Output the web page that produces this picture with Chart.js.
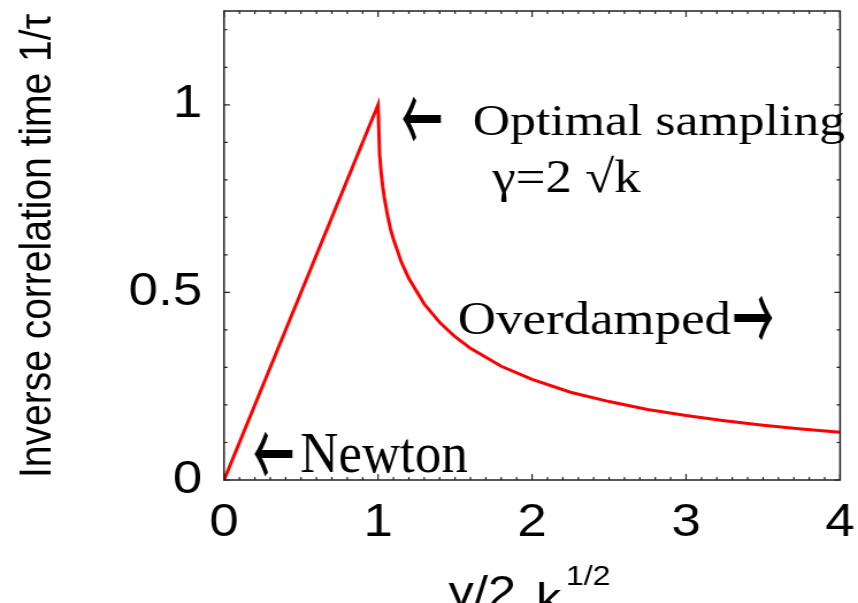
<!DOCTYPE html>
<html>
<head>
<meta charset="utf-8">
<title>Inverse correlation time</title>
<script src="https://cdn.jsdelivr.net/npm/chart.js@4.4.1/dist/chart.umd.min.js"></script>
<style>
  html, body { margin: 0; padding: 0; background: #fff; }
</style>
</head>
<body>
<!-- drawn narrow and widened by CSS so the lettering comes out broad -->
<canvas id="rateChart" width="746" height="603" style="width:858px;height:603px;display:block"></canvas>
<script>
// damping ratio gamma / (2 sqrt k)
const dampingRatio = [0, 1, 1.01, 1.02, 1.03, 1.04, 1.06, 1.08, 1.1, 1.15, 1.2, 1.3, 1.4, 1.5, 1.6, 1.8,
    2.0, 2.25, 2.5, 2.75, 3.0, 3.25, 3.5, 3.75, 4.0];
// inverse correlation time 1/tau
const inverseTau = [0, 1, 0.868, 0.82, 0.783, 0.755, 0.708, 0.67, 0.642, 0.582, 0.537, 0.469, 0.42, 0.382, 0.351, 0.303,
    0.268, 0.234, 0.209, 0.188, 0.172, 0.158, 0.146, 0.136, 0.127];

const xLabels = [0, 1, 2, 3, 4];
const yLabels = [0, 0.5, 1];

const sansFont = "'Liberation Sans', Arial, sans-serif";
const serifFont = "'Liberation Serif', 'Times New Roman', serif";
const arrowFont = "'Noto Sans CJK JP', 'DejaVu Sans', sans-serif";

const isLabelled = (value, list) => list.some(v => Math.abs(v - value) < 1e-6);

// big arrow glyph, squeezed sideways
function drawArrow(ctx, glyph, x, y) {
    ctx.save();
    ctx.translate(x, y);
    ctx.scale(0.38, 1);
    ctx.textAlign = 'left';
    ctx.textBaseline = 'middle';
    ctx.font = `500 94px ${arrowFont}`;
    ctx.fillText(glyph, 0, 0);
    ctx.restore();
}

// frame, inward ticks on all four sides, notes and axis titles
const framePlugin = {
    id: 'framePlugin',
    afterDatasetsDraw(chart) {
        const { ctx, chartArea: area, scales } = chart;
        ctx.save();
        ctx.strokeStyle = '#222';
        ctx.lineWidth = 1.5;
        ctx.strokeRect(area.left, area.top, area.right - area.left, area.bottom - area.top);

        ctx.lineWidth = 1.2;
        ctx.beginPath();
        scales.x.ticks.forEach(t => {
            const px = scales.x.getPixelForValue(t.value);
            const len = isLabelled(t.value, xLabels) ? 6 : 3;
            ctx.moveTo(px, area.bottom); ctx.lineTo(px, area.bottom - len);
            ctx.moveTo(px, area.top); ctx.lineTo(px, area.top + len);
        });
        scales.y.ticks.forEach(t => {
            const py = scales.y.getPixelForValue(t.value);
            const len = isLabelled(t.value, yLabels) ? 5 : 3;
            ctx.moveTo(area.left, py); ctx.lineTo(area.left + len, py);
            ctx.moveTo(area.right, py); ctx.lineTo(area.right - len, py);
        });
        ctx.stroke();

        ctx.fillStyle = '#000';

        drawArrow(ctx, '\u2190', 349, 119);
        drawArrow(ctx, '\u2190', 220, 454);
        drawArrow(ctx, '\u2192', 637, 318);

        ctx.textAlign = 'left';
        ctx.textBaseline = 'alphabetic';
        ctx.font = `45px ${serifFont}`;
        ctx.fillText('Optimal sampling', 411, 135);
        ctx.font = `46px ${serifFont}`;
        ctx.fillText('\u03b3=2 \u221ak', 428, 192);
        ctx.fillText('Overdamped', 398, 334);

        // taller lettering for the Newton note
        ctx.save();
        ctx.translate(261, 472);
        ctx.scale(1, 1.22);
        ctx.font = `46px ${serifFont}`;
        ctx.fillText('Newton', 0, 0);
        ctx.restore();

        // x axis title, runs past the bottom edge
        ctx.font = `44px ${sansFont}`;
        ctx.fillText('\u03b3/2', 390, 607);
        ctx.fillText('k', 466, 614);
        ctx.font = `28px ${sansFont}`;
        ctx.fillText('1/2', 492, 585);

        // y axis title
        ctx.translate(33, 246);
        ctx.rotate(-Math.PI / 2);
        ctx.textAlign = 'center';
        ctx.textBaseline = 'middle';
        ctx.font = `39px ${sansFont}`;
        ctx.fillText('Inverse correlation time 1/\u03c4', 0, 0);
        ctx.restore();
    }
};

const points = dampingRatio.map((x, i) => ({ x, y: inverseTau[i] }));

new Chart(document.getElementById('rateChart'), {
    type: 'scatter',
    data: {
        datasets: [{
            data: points,
            showLine: true,
            borderColor: '#ff0000',
            borderWidth: 3,
            pointRadius: 0,
            tension: 0,
            fill: false
        }]
    },
    options: {
        responsive: false,
        animation: false,
        devicePixelRatio: 1,
        layout: { padding: { top: 11, right: 15.6, left: 0, bottom: 0 } },
        plugins: { legend: { display: false }, tooltip: { enabled: false } },
        scales: {
            x: {
                type: 'linear',
                min: 0,
                max: 4,
                grid: { display: false, drawTicks: false },
                border: { display: false },
                ticks: {
                    stepSize: 0.1,
                    autoSkip: false,
                    maxRotation: 0,
                    padding: 16,
                    color: '#000',
                    font: { family: sansFont, size: 46 },
                    callback: v => isLabelled(v, xLabels) ? String(Math.round(v)) : ''
                },
                afterFit(scale) {
                    scale.height = 123;
                    scale.paddingLeft = 0;
                    scale.paddingRight = 0;
                }
            },
            y: {
                type: 'linear',
                min: 0,
                max: 1.25,
                grid: { display: false, drawTicks: false },
                border: { display: false },
                ticks: {
                    stepSize: 0.1,
                    includeBounds: false,
                    autoSkip: false,
                    padding: 19,
                    color: '#000',
                    font: { family: sansFont, size: 46 },
                    callback: v => isLabelled(v, yLabels) ? String(Math.round(v * 10) / 10) : ''
                },
                afterFit(scale) {
                    scale.width = 194.8;
                    scale.paddingTop = 0;
                    scale.paddingBottom = 0;
                }
            }
        }
    },
    plugins: [framePlugin]
});
</script>
</body>
</html>
